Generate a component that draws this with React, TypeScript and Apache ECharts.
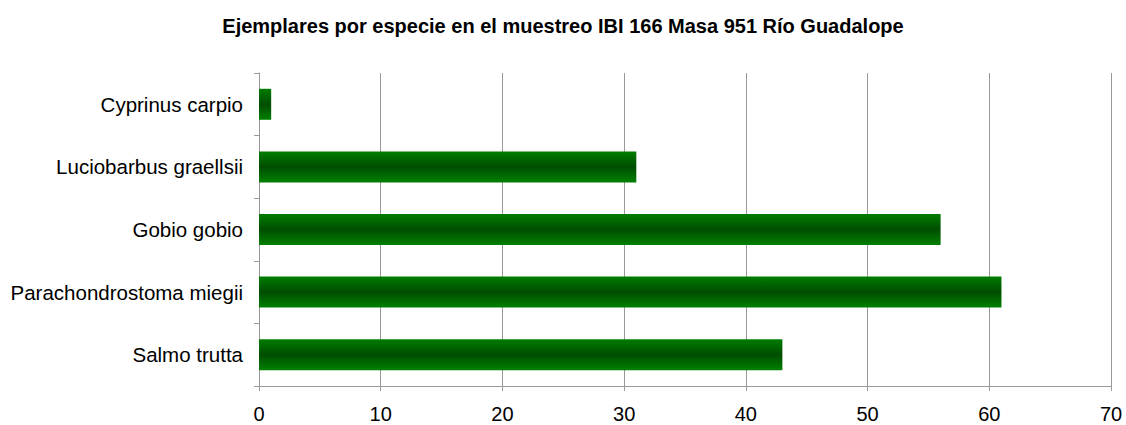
import React, { useEffect, useRef } from "react";
import * as echarts from "echarts";

const titleText = "Ejemplares por especie en el muestreo IBI 166 Masa 951 Río Guadalope";
const species = [
  "Cyprinus carpio",
  "Luciobarbus graellsii",
  "Gobio gobio",
  "Parachondrostoma miegii",
  "Salmo trutta",
];
const counts = [1, 31, 56, 61, 43];
const xMin = 0;
const xMax = 70;
const xStep = 10;

export default function App() {
  const ref = useRef<HTMLDivElement>(null);
  useEffect(() => {
    if (!ref.current) return;
    const chart = echarts.init(ref.current, null, { renderer: "svg" });
    const axisColor = "#999999";
    const font = "Liberation Sans, Arial, sans-serif";
    chart.setOption({
      animation: false,
      backgroundColor: "#ffffff",
      title: {
        text: titleText,
        left: "center",
        top: 11,
        textStyle: {
          fontFamily: font,
          fontSize: 20,
          fontWeight: "bold",
          color: "#000000",
        },
      },
      grid: { left: 259, right: 15, top: 73, bottom: 39, containLabel: false },
      xAxis: {
        type: "value",
        min: xMin,
        max: xMax,
        interval: xStep,
        axisLine: { show: true, lineStyle: { color: axisColor, width: 1 } },
        axisTick: { show: true, length: 5, lineStyle: { color: axisColor } },
        splitLine: { show: true, lineStyle: { color: axisColor, width: 1 } },
        axisLabel: {
          margin: 18,
          fontFamily: font,
          fontSize: 20,
          color: "#000000",
        },
      },
      yAxis: {
        type: "category",
        data: species,
        inverse: true,
        axisLine: { show: true, lineStyle: { color: axisColor, width: 1 } },
        axisTick: { show: true, length: 5, lineStyle: { color: axisColor } },
        splitLine: { show: false },
        axisLabel: {
          margin: 16,
          fontFamily: font,
          fontSize: 20.5,
          color: "#000000",
        },
      },
      series: [
        {
          type: "bar",
          data: counts,
          barWidth: 31,
          itemStyle: {
            color: new echarts.graphic.LinearGradient(0, 0, 0, 1, [
              { offset: 0, color: "#007d00" },
              { offset: 0.5, color: "#004d00" },
              { offset: 1, color: "#008000" },
            ]),
          },
        },
      ],
    });
    return () => chart.dispose();
  }, []);
  return (
    <div
      ref={ref}
      style={{ position: "fixed", left: 0, top: 0, width: 1126, height: 425 }}
    />
  );
}
